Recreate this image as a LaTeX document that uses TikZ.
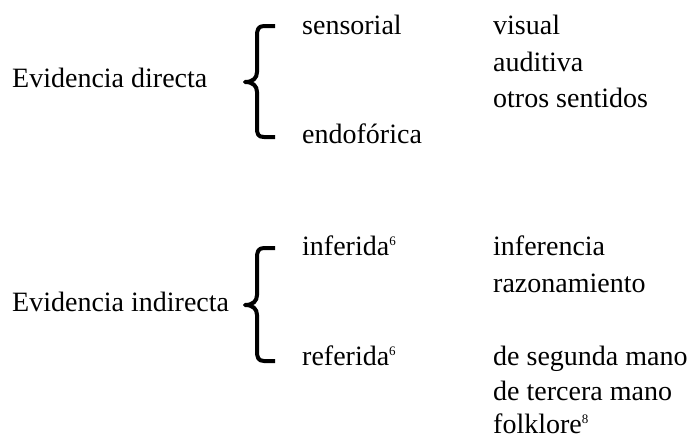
\documentclass[tikz,border=0pt]{standalone}
\usepackage{fontspec}
\setmainfont{Liberation Serif}
\tikzset{
	txt/.style={anchor=base west, inner sep=0pt, font=\fontsize{28}{34}\selectfont},
	brace/.style={line width=4pt, line cap=butt, line join=round}
}
\newcommand{\nota}[1]{\textsuperscript{\fontsize{13}{13}\selectfont #1}}
\begin{document}
\begin{tikzpicture}[x=1pt, y=-1pt]
	\useasboundingbox (0,0) rectangle (690,439);
	% primera llave
	\node[txt] (dir) at (12,87) {Evidencia directa};
	\node[txt] (sens) at (302,34) {sensorial};
	\node[txt] (endo) at (302,143) {endofórica};
	\node[txt] (vis) at (493,34) {visual};
	\node[txt] (aud) at (493,71) {auditiva};
	\node[txt] (otr) at (493,107) {otros sentidos};
	\draw[brace] (275,26) -- (264,26) .. controls (258,26) and (257,30) .. (257,36)
		-- (257,72) .. controls (257,78) and (253,82) .. (245,82)
		.. controls (253,82) and (257,86) .. (257,92)
		-- (257,128) .. controls (257,134) and (258,137) .. (264,137) -- (275,137);
	% segunda llave
	\node[txt] (ind) at (12,311) {Evidencia indirecta};
	\node[txt] (inf) at (302,255) {inferida\nota{6}};
	\node[txt] (ref) at (302,365) {referida\nota{6}};
	\node[txt] (infc) at (493,255) {inferencia};
	\node[txt] (raz) at (493,292) {razonamiento};
	\node[txt] (seg) at (493,365) {de segunda mano};
	\node[txt] (ter) at (493,400) {de tercera mano};
	\node[txt] (fol) at (493,433) {folklore\nota{8}};
	\draw[brace] (275,248) -- (264,248) .. controls (258,248) and (257,252) .. (257,258)
		-- (257,295) .. controls (257,301) and (253,305) .. (245,305)
		.. controls (253,305) and (257,309) .. (257,315)
		-- (257,351) .. controls (257,357) and (258,361) .. (264,361) -- (275,361);
\end{tikzpicture}
\end{document}
